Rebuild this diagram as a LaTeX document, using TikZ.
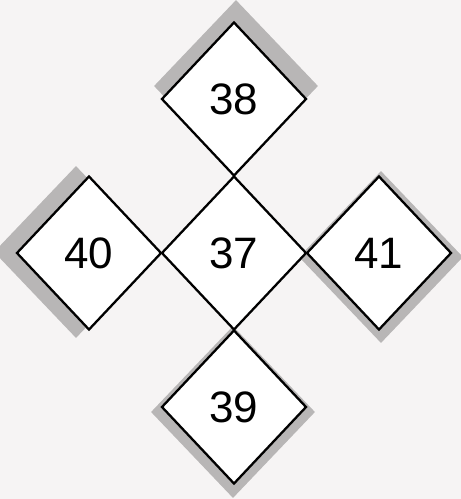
\documentclass[tikz,border=0pt]{standalone}
\usepackage{fontspec}
\setmainfont{Liberation Sans}
\usetikzlibrary{shapes.geometric}
\definecolor{shadowgray}{RGB}{184,182,182}
\definecolor{paper}{RGB}{246,244,244}
\begin{document}
\begin{tikzpicture}[x=1pt,y=-1pt,
  box/.style={diamond,draw=black,line width=2.3pt,fill=white,inner sep=0pt,
    minimum width=145pt,minimum height=154pt,font=\fontsize{44}{50}\selectfont},
  shade/.style={diamond,fill=shadowgray,inner sep=0pt,
    minimum width=164pt,minimum height=172pt}]
\useasboundingbox (0,0) rectangle (461,499);
\fill[paper] (0,0) rectangle (461,499);
% shadows
\node[shade] (s38) at (236,86) {};
\node[shade] (s40) at (76,252) {};
\node[shade] (s41) at (381,257) {};
\node[shade] (s39) at (233,412) {};
% diamonds
\node[box] (d37) at (234,253) {37};
\node[box] (d38) at (234,99) {38};
\node[box] (d40) at (89,253) {40};
\node[box] (d41) at (379,253) {41};
\node[box] (d39) at (234,407) {39};
\end{tikzpicture}
\end{document}
